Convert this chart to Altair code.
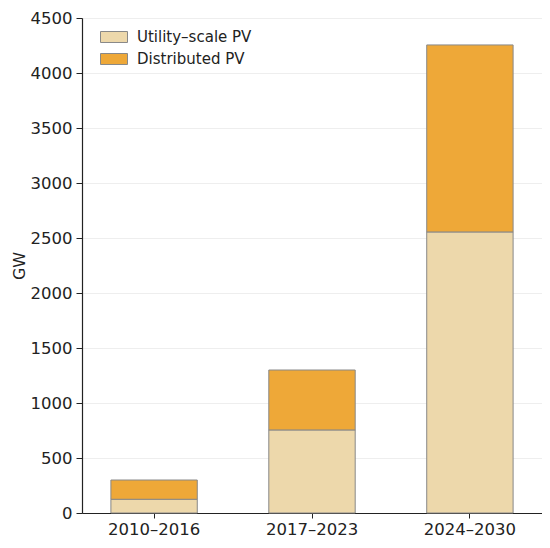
import altair as alt
import pandas as pd

periods = ["2010–2016", "2017–2023", "2024–2030"]
utility = [125, 755, 2555]
distributed = [175, 545, 1700]
series = ["Utility–scale PV", "Distributed PV"]
colors = ["#edd8ab", "#eea838"]
yticks = list(range(0, 4501, 500))

rows = []
for p, u, d in zip(periods, utility, distributed):
    rows.append({"period": p, "series": series[0], "gw": u, "ord": 0})
    rows.append({"period": p, "series": series[1], "gw": d, "ord": 1})
df = pd.DataFrame(rows)

rect_path = "M-1,-0.407L1,-0.407L1,0.407L-1,0.407Z"

chart = alt.Chart(df).mark_bar(stroke="#888888", strokeWidth=1).encode(
    x=alt.X("period:N", sort=periods, title=None,
            scale=alt.Scale(paddingInner=0.453, paddingOuter=0.183),
            axis=alt.Axis(labelAngle=0, labelFontSize=16.5, labelColor="#222222",
                          domainColor="#222222", tickColor="#222222",
                          tickSize=5, labelPadding=3, grid=False, domainWidth=1.2)),
    y=alt.Y("gw:Q", stack="zero", title="GW",
            scale=alt.Scale(domain=[0, 4500], nice=False),
            axis=alt.Axis(values=yticks, format="d", labelFontSize=16.5, labelColor="#222222",
                          titleFontSize=16, titleFontWeight="normal", titleColor="#222222",
                          titleX=-58, titleBaseline="alphabetic",
                          domainColor="#222222", tickColor="#222222", tickSize=6,
                          labelPadding=4, domainWidth=1.2,
                          grid=True, gridColor="#eeeeee", gridWidth=1)),
    color=alt.Color("series:N", sort=series,
                    scale=alt.Scale(domain=series, range=colors),
                    legend=alt.Legend(title=None, orient="none", legendX=18, legendY=5,
                                      symbolType=rect_path, symbolSize=729,
                                      symbolStrokeColor="#888888", symbolStrokeWidth=1,
                                      labelFontSize=15, labelColor="#222222",
                                      rowPadding=-5, labelOffset=9)),
    order=alt.Order("ord:Q"),
).properties(
    width=460, height=495,
    autosize=alt.AutoSizeParams(type="none"),
    padding={"left": 74, "top": 10, "right": 0, "bottom": 27},
).configure_view(stroke=None).configure(font="DejaVu Sans")

chart.save("out.html", embed_options={"renderer": "svg", "actions": False})
